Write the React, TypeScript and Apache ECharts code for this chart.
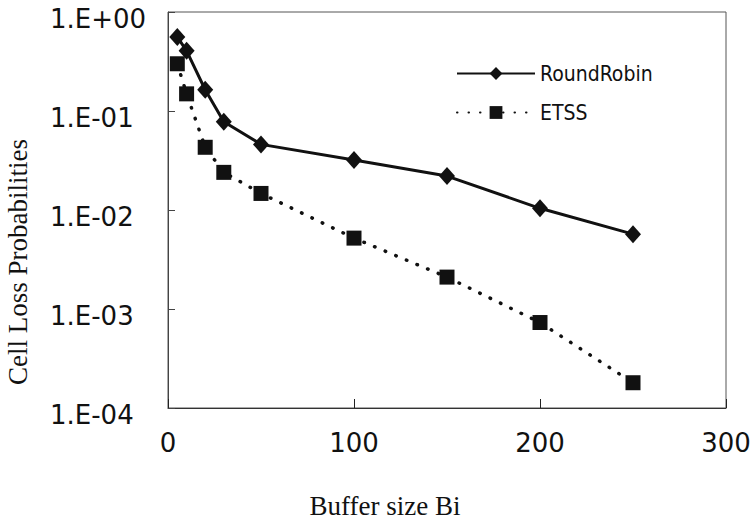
import React, { useEffect, useRef } from "react";
import * as echarts from "echarts";

const bufferSizes = [5, 10, 20, 30, 50, 100, 150, 200, 250];
const roundRobin = [0.56, 0.405, 0.164, 0.078, 0.046, 0.032, 0.022, 0.0104, 0.0057];
const etss = [0.3, 0.149, 0.043, 0.024, 0.0147, 0.0052, 0.0021, 0.00073, 0.00018];
const seriesNames = ["RoundRobin", "ETSS"];
const xTitle = "Buffer size Bi";
const yTitle = "Cell Loss Probabilities";

function fmtExp(v: number) {
  const e = Math.round(Math.log10(v));
  return "1.E" + (e < 0 ? "-" : "+") + String(Math.abs(e)).padStart(2, "0");
}

export default function App() {
  const ref = useRef<HTMLDivElement>(null);
  useEffect(() => {
    if (!ref.current) return;
    const chart = echarts.init(ref.current, null, { renderer: "svg" });
    const sans = "DejaVu Sans";
    const narrow = "'Liberation Sans Narrow', 'DejaVu Sans Condensed', 'Liberation Sans', sans-serif";
    const serif = "Liberation Serif";
    chart.setOption({
      animation: false,
      backgroundColor: "#fff",
      grid: {
        left: 168,
        right: 28,
        top: 12,
        bottom: 116,
        show: true,
        borderColor: "#555",
        borderWidth: 1,
      },
      legend: {
        left: 451,
        top: 58,
        orient: "vertical",
        itemWidth: 78,
        itemHeight: 16,
        itemGap: 18,
        textStyle: { fontFamily: narrow, fontSize: 21, color: "#111" },
        data: seriesNames,
      },
      xAxis: {
        type: "value",
        min: 0,
        max: 300,
        interval: 100,
        axisLine: { show: true, lineStyle: { color: "#333", width: 1 } },
        axisTick: { show: true, inside: true, length: 9, lineStyle: { color: "#222" } },
        splitLine: { show: false },
        axisLabel: { fontFamily: sans, fontSize: 26, color: "#111", margin: 22 },
      },
      yAxis: {
        type: "log",
        min: 1e-4,
        max: 1,
        logBase: 10,
        axisLine: { show: true, lineStyle: { color: "#444", width: 1 } },
        axisTick: { show: true, inside: true, length: 7, lineStyle: { color: "#444" } },
        splitLine: { show: false },
        axisLabel: {
          fontFamily: sans,
          fontSize: 26,
          color: "#111",
          align: "left",
          verticalAlign: "top",
          lineHeight: 14,
          margin: 118,
          formatter: (v: number) => fmtExp(v),
        },
      },
      graphic: [
        {
          type: "text",
          x: 385,
          y: 506,
          style: {
            text: xTitle,
            fontFamily: serif,
            fontSize: 27,
            fill: "#111",
            textAlign: "center",
            textVerticalAlign: "middle",
          },
        },
        {
          type: "text",
          x: 18,
          y: 262,
          rotation: Math.PI / 2,
          style: {
            text: yTitle,
            fontFamily: serif,
            fontSize: 27,
            fill: "#111",
            textAlign: "center",
            textVerticalAlign: "middle",
          },
        },
      ],
      series: [
        {
          name: seriesNames[0],
          type: "line",
          data: bufferSizes.map((x, i) => [x, roundRobin[i]]),
          symbol: "diamond",
          symbolSize: [16, 18],
          itemStyle: { color: "#111" },
          lineStyle: { color: "#111", width: 3, type: "solid" },
        },
        {
          name: seriesNames[1],
          type: "line",
          data: bufferSizes.map((x, i) => [x, etss[i]]),
          symbol: "rect",
          symbolSize: 15,
          itemStyle: { color: "#111" },
          lineStyle: { color: "#111", width: 3.5, type: [0.5, 11], cap: "round" },
        },
      ],
    });
    return () => chart.dispose();
  }, []);
  return (
    <div
      ref={ref}
      style={{ position: "fixed", left: 0, top: 0, width: 754, height: 524, background: "#fff" }}
    />
  );
}
